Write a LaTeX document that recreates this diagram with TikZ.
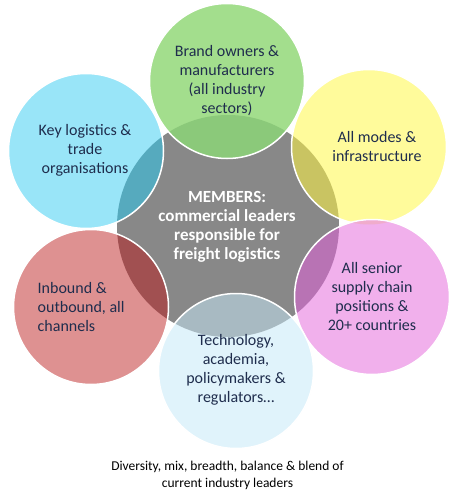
\documentclass[tikz,border=0pt]{standalone}
\usepackage{fontspec}
\setmainfont{Carlito}
\definecolor{grayc}{RGB}{136,136,136}
\definecolor{greenW}{RGB}{163,222,141}
\definecolor{greenG}{RGB}{139,201,122}
\definecolor{yellowW}{RGB}{255,251,155}
\definecolor{yellowG}{RGB}{201,196,98}
\definecolor{magW}{RGB}{241,176,236}
\definecolor{magG}{RGB}{184,115,180}
\definecolor{magY}{RGB}{240,172,204}
\definecolor{blueW}{RGB}{224,243,251}
\definecolor{blueG}{RGB}{168,186,194}
\definecolor{redW}{RGB}{222,145,145}
\definecolor{redG}{RGB}{161,80,81}
\definecolor{cyanW}{RGB}{153,229,248}
\definecolor{cyanG}{RGB}{86,170,190}
\definecolor{navy}{RGB}{31,45,77}
\tikzset{
  txt/.style={align=center, text=navy, font=\fontsize{16}{19}\selectfont, inner sep=0pt},
  centertxt/.style={align=center, text=white, font=\bfseries\fontsize{17}{19}\selectfont, inner sep=0pt},
  captxt/.style={align=center, text=black, font=\fontsize{13.5}{17}\selectfont, inner sep=0pt},
  rim/.style={draw=white, line width=1.5pt}
}
\newcommand{\vennring}[3]{%
  \fill[#2] #1 circle (77.5pt);
  \begin{scope}
    \clip (228,226) circle (111pt);
    \fill[#3] #1 circle (77.5pt);
  \end{scope}
  \draw[rim] #1 circle (77.5pt);
}
\begin{document}
\begin{tikzpicture}[x=1pt,y=-1pt]
\useasboundingbox (0,0) rectangle (469,498);
\fill[white] (0,0) rectangle (469,498);
\coordinate (core) at (228,226);
\fill[grayc] (core) circle (111pt);
\vennring{(227,81)}{greenW}{greenG}
\vennring{(369,147)}{yellowW}{yellowG}
\vennring{(372,297)}{magW}{magG}
\begin{scope}
  \clip (369,147) circle (77.5pt);
  \clip (372,297) circle (76.5pt);
  \fill[magY] (372,297) circle (76.5pt);
\end{scope}
\vennring{(236,371)}{blueW}{blueG}
\vennring{(91,307)}{redW}{redG}
\vennring{(86,151)}{cyanW}{cyanG}

\node[centertxt] (members) at (227,227) {MEMBERS:\\commercial leaders\\responsible for\\freight logistics};
\node[txt] (brand) at (227,81) {Brand owners \&\\manufacturers\\(all industry\\sectors)};
\node[txt] (modes) at (377,147) {All modes \&\\infrastructure};
\node[txt] (senior) at (372,296) {All senior\\supply chain\\positions \&\\20+ countries};
\node[txt] (tech) at (236,370) {Technology,\\academia,\\policymakers \&\\regulators…};
\node[txt, align=left, anchor=west] (inbound) at (37.5,307) {Inbound \&\\outbound, all\\channels};
\node[txt] (keylog) at (85,150) {Key logistics \&\\trade\\organisations};
\node[captxt] (caption) at (227.5,475) {Diversity, mix, breadth, balance \& blend of\\current industry leaders};
\end{tikzpicture}
\end{document}
